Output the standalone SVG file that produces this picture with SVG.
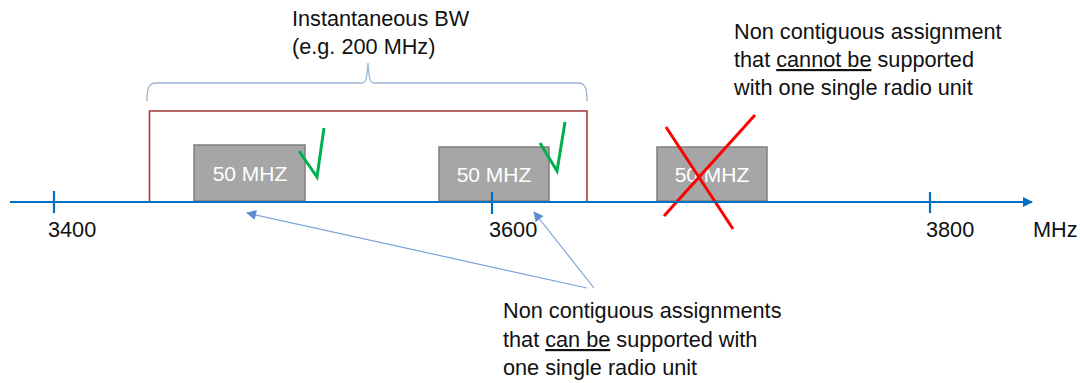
<svg xmlns="http://www.w3.org/2000/svg" width="1080" height="383" viewBox="0 0 1080 383">
<style>
.t{font-family:"Liberation Sans",Arial,sans-serif;font-size:21.7px;fill:#111}
.bx{fill:#A6A6A6;stroke:#7F7F7F;stroke-width:1.5}
.bt{font-family:"Liberation Sans",Arial,sans-serif;font-size:21px;fill:#fff;text-anchor:middle}
.chk{fill:none;stroke:#00B050;stroke-width:3;stroke-linejoin:miter}
.ax{stroke:#0070C0;stroke-width:2.2;fill:none}
.cal{stroke:#7BA3D6;stroke-width:1.2;fill:none}
.u{text-decoration:underline}
</style>
<defs>
<marker id="ah" viewBox="0 0 10 10" refX="9" refY="5" markerWidth="10" markerHeight="10" markerUnits="userSpaceOnUse" orient="auto">
<path d="M0,0 L10,5 L0,10 z" fill="#0070C0"/>
</marker>
<marker id="ch" viewBox="0 0 10 10" refX="9" refY="5" markerWidth="11" markerHeight="10" markerUnits="userSpaceOnUse" orient="auto">
<path d="M0,0 L10,5 L0,10 z" fill="#5B8FD0"/>
</marker>
</defs>

<g id="bw-label">
<text class="t" x="292" y="26">Instantaneous BW</text>
<text class="t" x="292" y="54">(e.g. 200 MHz)</text>
</g>
<g id="brace">
<path d="M147,101 C147,90 148,83 156,83 L362,83 C366,83 367,78 368,63 C369,78 370,83 374,83 L578,83 C586,83 587,90 587,101" fill="none" stroke="#9DB5D5" stroke-width="1.3"/>
</g>
<g id="bw-window">
<path d="M149.5,202 L149.5,111 L587,111 L587,202" fill="none" stroke="#A33B3B" stroke-width="1.6"/>
</g>

<g id="box1">
<rect class="bx" x="194" y="145" width="111" height="56"/>
<text class="bt" x="250" y="181">50 MHZ</text>
<polyline class="chk" points="299,151 317,177 324,128"/>
</g>
<g id="box2">
<rect class="bx" x="439" y="147" width="110" height="54"/>
<text class="bt" x="494" y="182">50 MHZ</text>
<polyline class="chk" points="540,143 557,171 565,122"/>
</g>
<g id="box3">
<rect class="bx" x="657" y="147" width="110" height="54"/>
<text class="bt" x="712" y="182">50 MHZ</text>
<line x1="666" y1="127" x2="733" y2="229" stroke="#FF0000" stroke-width="3"/>
<line x1="755" y1="115" x2="664" y2="216" stroke="#FF0000" stroke-width="3"/>
</g>

<g id="axis">
<line class="ax" x1="10" y1="202" x2="1032" y2="202" marker-end="url(#ah)"/>
<line class="ax" x1="54" y1="191" x2="54" y2="213"/>
<line class="ax" x1="492" y1="192" x2="492" y2="214"/>
<line class="ax" x1="930" y1="192" x2="930" y2="213"/>
<text class="t" x="48" y="237">3400</text>
<text class="t" x="489" y="237">3600</text>
<text class="t" x="926" y="237">3800</text>
<text class="t" x="1033" y="237">MHz</text>
</g>

<g id="connectors">
<line class="cal" x1="587" y1="288" x2="247" y2="213" marker-end="url(#ch)"/>
<line class="cal" x1="594" y1="288" x2="534" y2="212" marker-end="url(#ch)"/>
</g>

<g id="can-label">
<text class="t" x="503" y="318">Non contiguous assignments</text>
<text class="t" x="503" y="347">that <tspan class="u">can be</tspan> supported with</text>
<text class="t" x="503" y="375">one single radio unit</text>
</g>
<g id="cannot-label">
<text class="t" x="734" y="39">Non contiguous assignment</text>
<text class="t" x="734" y="67">that <tspan class="u">cannot be</tspan> supported</text>
<text class="t" x="734" y="95">with one single radio unit</text>
</g>
</svg>
